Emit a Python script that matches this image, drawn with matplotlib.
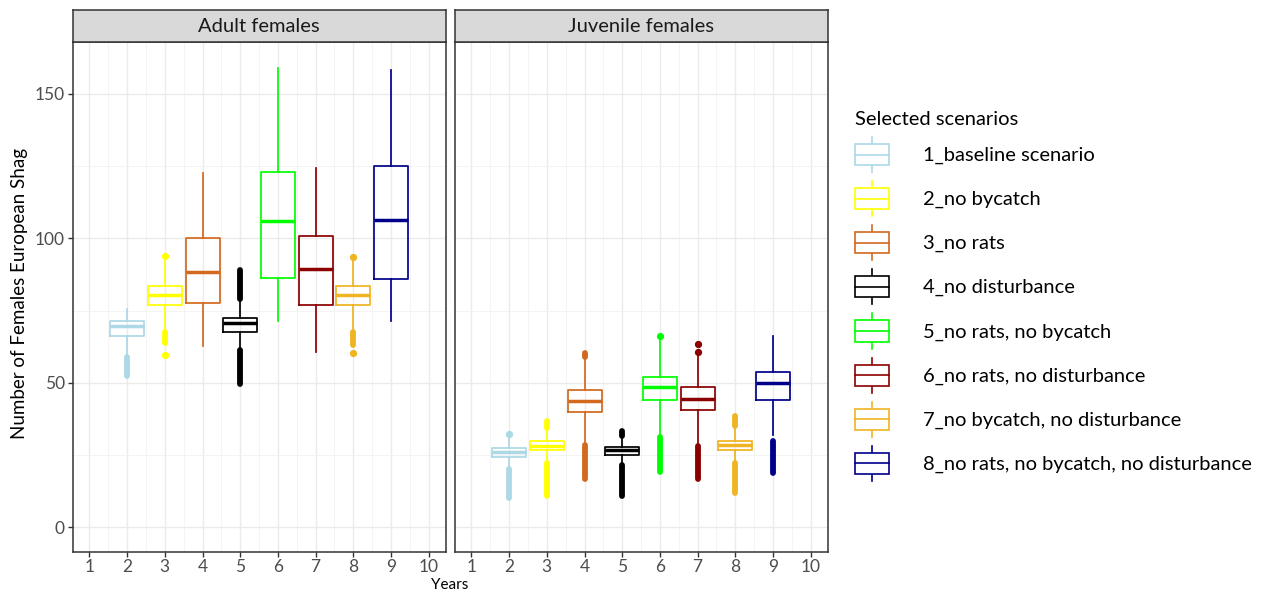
import matplotlib
matplotlib.use("Agg")
import matplotlib.pyplot as plt
import matplotlib.patches as mpatches
from matplotlib.legend_handler import HandlerBase
from matplotlib.lines import Line2D

plt.rcParams['font.family'] = ['Lato', 'DejaVu Sans']

# ---- data ----
years = [2, 3, 4, 5, 6, 7, 8, 9]
scenarios = ["1_baseline scenario", "2_no bycatch", "3_no rats", "4_no disturbance",
             "5_no rats, no bycatch", "6_no rats, no disturbance",
             "7_no bycatch, no disturbance", "8_no rats, no bycatch, no disturbance"]
colors = ["#ADD8E6", "#FFFF00", "#D2691E", "#000000",
          "#00FF00", "#8B0000", "#EEB422", "#00008B"]
facets = ["Adult females", "Juvenile females"]

# adult females
adult_lo = [59.3, 68.5, 62.8, 62.0, 71.4, 60.6, 68.5, 71.4]
adult_q1 = [66.2, 77.1, 77.5, 67.7, 86.4, 77.1, 77.1, 86.1]
adult_med = [69.7, 80.3, 88.4, 70.8, 105.9, 89.5, 80.3, 106.4]
adult_q3 = [71.5, 83.6, 100.1, 72.3, 123.1, 101.0, 83.6, 125.1]
adult_hi = [75.5, 92.5, 122.5, 78.5, 158.9, 124.5, 92.5, 158.4]
adult_pts = [[], [59.7, 93.8], [], [], [], [], [60.2, 93.6], []]
adult_runs = [[(52.5, 58.8)], [(63.7, 67.7)], [], [(79.2, 89.2), (49.7, 61.4)],
              [], [], [(63.1, 67.7)], []]

# juvenile females
juv_lo = [20.8, 23.0, 29.5, 22.0, 32.0, 29.0, 23.0, 32.0]
juv_q1 = [24.4, 26.7, 40.0, 25.1, 43.9, 40.6, 26.7, 44.1]
juv_med = [25.9, 28.3, 43.6, 26.6, 48.7, 44.5, 28.4, 49.9]
juv_q3 = [27.5, 29.8, 47.6, 27.7, 52.2, 48.4, 29.9, 53.6]
juv_hi = [31.5, 33.8, 58.0, 31.0, 65.5, 60.0, 34.0, 66.3]
juv_pts = [[32.2], [], [], [], [66.3], [60.8, 63.6], [], []]
juv_runs = [[(10.2, 20.2)], [(34.4, 36.7), (11.0, 22.3)], [(58.9, 60.2), (16.6, 28.6)],
            [(31.5, 33.2), (11.0, 21.5)], [(19.1, 31.3)], [(16.6, 28.3)],
            [(34.9, 38.4), (12.0, 22.3)], [(18.9, 29.8)]]

panels = [
    (adult_lo, adult_q1, adult_med, adult_q3, adult_hi, adult_pts, adult_runs),
    (juv_lo, juv_q1, juv_med, juv_q3, juv_hi, juv_pts, juv_runs),
]

W, H = 1266, 591
fig = plt.figure(figsize=(W / 100, H / 100), dpi=100)


def px(x0, y0, x1, y1):
    # pixel box (top-left origin) -> figure fraction rect
    return [x0 / W, 1 - y1 / H, (x1 - x0) / W, (y1 - y0) / H]


panel_px = [(72.5, 445.7), (454.5, 827.7)]
axes = []
for k, (lo, q1, med, q3, hi, pts, runs) in enumerate(panels):
    x0, x1 = panel_px[k]
    ax = fig.add_axes(px(x0, 42, x1, 551.7))
    axes.append(ax)
    ax.set_xlim(0.55, 10.45)
    ax.set_ylim(-8.45, 168)
    ax.set_xticks(range(1, 11))
    ax.set_xticks([i + 0.5 for i in range(1, 10)], minor=True)
    ax.set_yticks([0, 50, 100, 150])
    ax.set_yticks([25, 75, 125], minor=True)
    ax.grid(which='major', color='#EBEBEB', lw=1.0)
    ax.grid(which='minor', color='#F2F2F2', lw=0.6)
    ax.set_axisbelow(True)
    for s in ax.spines.values():
        s.set_color('#333333')
        s.set_linewidth(1.1)
    ax.tick_params(which='major', length=3.6, width=1.0, color='#333333',
                   labelcolor='#4D4D4D', labelsize=12.5, pad=2)
    ax.tick_params(which='minor', length=0)
    if k == 1:
        ax.tick_params(labelleft=False, left=False)

    for i, yr in enumerate(years):
        c = colors[i]
        st = dict(med=med[i], q1=q1[i], q3=q3[i], whislo=lo[i], whishi=hi[i], fliers=pts[i])
        ax.bxp([st], positions=[yr], widths=0.9, showfliers=True, manage_ticks=False,
               boxprops=dict(color=c, lw=1.25),
               whiskerprops=dict(color=c, lw=1.25),
               capprops=dict(lw=0),
               medianprops=dict(color=c, lw=2.5),
               flierprops=dict(marker='o', markerfacecolor=c, markeredgecolor=c,
                               markersize=4.2, linestyle='none'))
        for a, b in runs[i]:
            ax.plot([yr, yr], [a, b], color=c, lw=4.2, solid_capstyle='round')

    # facet strip
    sax = fig.add_axes(px(x0, 10, x1, 42))
    sax.set_facecolor('#D9D9D9')
    sax.set_xticks([])
    sax.set_yticks([])
    for s in sax.spines.values():
        s.set_color('#333333')
        s.set_linewidth(1.1)
    sax.text(0.5, 0.5, facets[k], ha='center', va='center', fontsize=14.5,
             color='#1A1A1A', transform=sax.transAxes)

fig.text(20 / W, 1 - 294 / H, "Number of Females European Shag", rotation=90,
         ha='center', va='center', fontsize=13.5, color='black')
fig.text(450 / W, 1 - 585 / H, "Years", ha='center', va='center', fontsize=11, color='black')


class BoxKey(HandlerBase):
    def create_artists(self, legend, orig_handle, xdescent, ydescent, width, height,
                       fontsize, trans):
        c = orig_handle.get_edgecolor()
        x0, y0 = -xdescent, -ydescent
        cx = x0 + width / 2
        bh = height * 0.6
        by = y0 + (height - bh) / 2
        box = mpatches.Rectangle((x0, by), width, bh, facecolor='white', edgecolor=c,
                                 lw=1.2, transform=trans)
        mid = Line2D([x0, x0 + width], [by + bh / 2] * 2, color=c, lw=1.2, transform=trans)
        top = Line2D([cx, cx], [by + bh, y0 + height], color=c, lw=1.2, transform=trans)
        bot = Line2D([cx, cx], [y0, by], color=c, lw=1.2, transform=trans)
        return [top, bot, box, mid]


handles = [mpatches.Patch(edgecolor=c, facecolor='white', label=s)
           for c, s in zip(colors, scenarios)]
fig.legend(handles=handles, handler_map={mpatches.Patch: BoxKey()},
           loc='upper left', bbox_to_anchor=(855 / W, 1 - 111 / H),
           frameon=False, fontsize=14.5, title="Selected scenarios", title_fontsize=14.5,
           alignment='left', handlelength=1.7, handleheight=2.3,
           labelspacing=0.45, handletextpad=1.7, borderpad=0, borderaxespad=0)

fig.savefig("out.png", dpi=100)
